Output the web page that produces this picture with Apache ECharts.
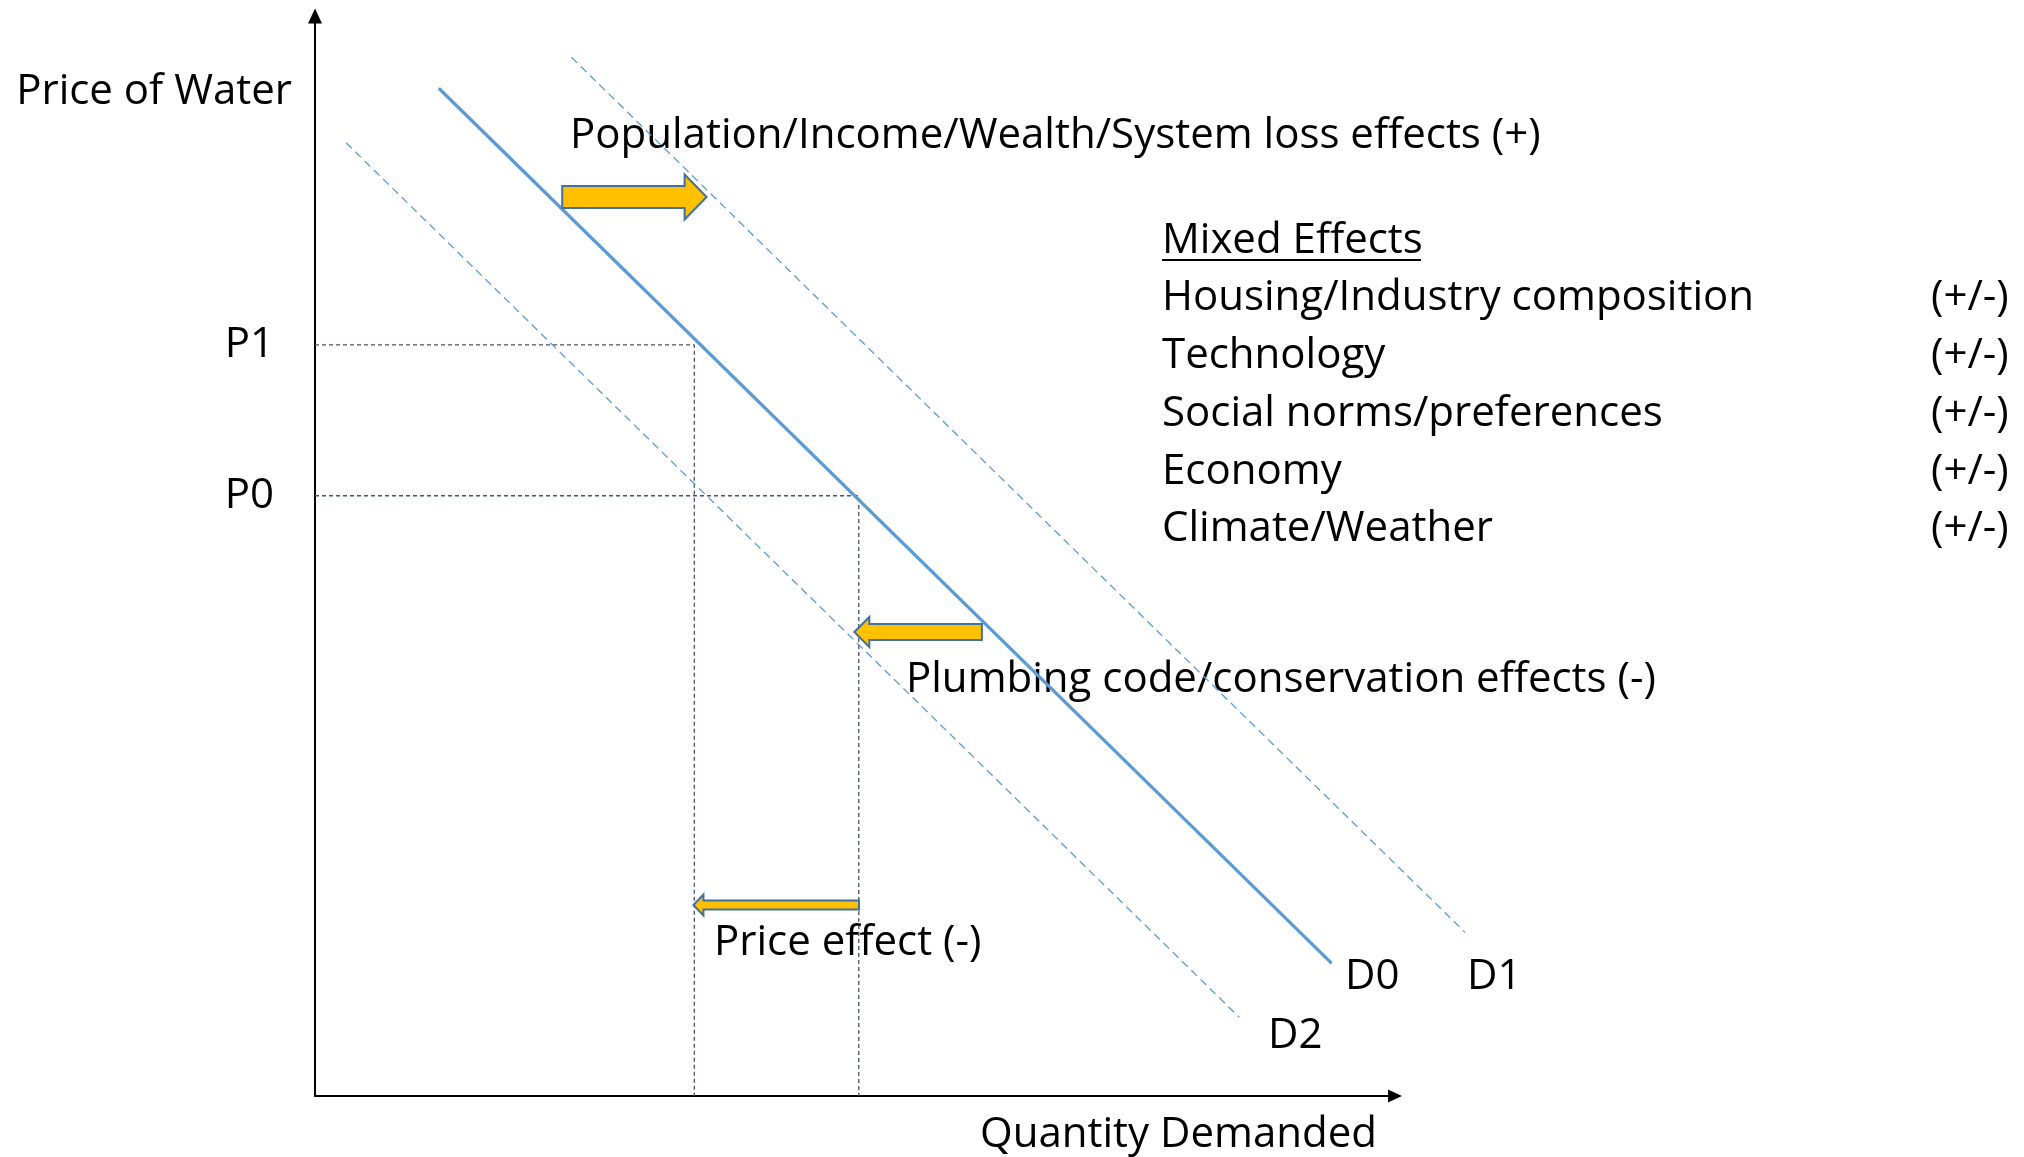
<!DOCTYPE html>
<html>
<head>
<meta charset="utf-8">
<script src="https://cdn.jsdelivr.net/npm/echarts@6/dist/echarts.min.js"></script>
<style>
  html, body { margin: 0; padding: 0; background: #fff; }
  #chart { width: 2024px; height: 1157px; }
</style>
</head>
<body>
<div id="chart"></div>
<script>
// demand curves as [quantity, price] end points, axes run 0..100
const d0 = [[11.46, 93.31], [94.14, 12.29]];
const d1 = [[23.74, 96.18], [106.48, 15.16]];
const d2 = [[2.87, 88.27], [85.58, 7.29]];

const priceTicks = [55.58, 69.54];
const priceLabels = ['P0', 'P1'];
const qtyAtPrice = [50.35, 35.12];

// shift arrows, tail -> head
const arrowFrom = [[22.89, 83.24], [61.75, 42.96], [50.37, 17.69]];
const arrowTo = [[36.26, 83.24], [49.94, 42.96], [35.04, 17.69]];

const mixedEffects = ['Housing/Industry composition', 'Technology', 'Social norms/preferences', 'Economy', 'Climate/Weather'];
const mixedSign = '(+/-)';

const FONT = '"Open Sans"';
const FS = 42;
const arrowSize = [
  { body: 22, head: 45, len: 22 },
  { body: 16, head: 30, len: 15 },
  { body: 9, head: 21, len: 10 }
];

const chart = echarts.init(document.getElementById('chart'));

function guide(i) {
  return [[0, priceTicks[i]], [qtyAtPrice[i], priceTicks[i]], [qtyAtPrice[i], 0]];
}

const txt = (text, x, y, extra) => ({
  type: 'text', x: x, y: y, silent: true,
  style: Object.assign({ text: text, font: FS + 'px ' + FONT, fill: '#000', verticalAlign: 'middle', align: 'left' }, extra || {})
});

const graphics = [
  txt('Population/Income/Wealth/System loss effects (+)', 570, 136),
  txt('Mixed Effects', 1162, 241),
  { type: 'line', silent: true, shape: { x1: 1162, y1: 260, x2: 1421, y2: 260 }, style: { stroke: '#000', lineWidth: 2 } },
  txt('Plumbing code/conservation effects (-)', 906, 680),
  txt('Price effect (-)', 714, 943),
  txt('D0', 1345, 977),
  txt('D1', 1467, 977),
  txt('D2', 1268, 1036)
];
const rowY = [298, 356, 414, 472, 529];
mixedEffects.forEach((m, i) => {
  graphics.push(txt(m, 1162, rowY[i]));
  graphics.push(txt(mixedSign, 1931, rowY[i]));
});

// plain polyline drawn through the axes, so it may run past the axis end
function demandLine(lineStyle) {
  return function (params, api) {
    if (params.dataIndex !== 0) return;
    const pts = [];
    for (let k = 0; k < params.dataInsideLength; k++) {
      pts.push(api.coord([api.value(0, k), api.value(1, k)]));
    }
    return { type: 'polyline', shape: { points: pts }, style: Object.assign({ fill: null }, lineStyle) };
  };
}

const option = {
  animation: false,
  grid: { left: 315, top: 16, width: 1080, height: 1080 },
  xAxis: {
    type: 'value', min: 0, max: 100,
    name: 'Quantity Demanded', nameLocation: 'end', nameGap: -18,
    nameTextStyle: { fontFamily: FONT, fontSize: FS, color: '#000', align: 'right', verticalAlign: 'top', padding: [18, 0, 0, 0] },
    axisLine: { lineStyle: { color: '#000', width: 2 }, symbol: ['none', 'triangle'], symbolSize: [13, 14] },
    axisTick: { show: false }, axisLabel: { show: false }, splitLine: { show: false }
  },
  yAxis: {
    type: 'value', min: 0, max: 100,
    name: 'Price of Water', nameLocation: 'end', nameGap: -76,
    nameTextStyle: { fontFamily: FONT, fontSize: FS, color: '#000', align: 'right', verticalAlign: 'middle', padding: [0, 23, 0, 0] },
    axisLine: { lineStyle: { color: '#000', width: 2 }, symbol: ['none', 'triangle'], symbolSize: [14, 15] },
    axisTick: { show: false },
    axisLabel: {
      customValues: priceTicks, margin: 41,
      fontFamily: FONT, fontSize: FS, color: '#000',
      formatter: v => priceLabels[priceTicks.indexOf(v)]
    },
    splitLine: { show: false }
  },
  graphic: graphics,
  series: [
    { type: 'line', data: guide(1), symbol: 'none', silent: true, clip: false,
      lineStyle: { color: '#44546A', width: 1.3, type: [4, 3] } },
    { type: 'line', data: guide(0), symbol: 'none', silent: true, clip: false,
      lineStyle: { color: '#44546A', width: 1.3, type: [4, 3] } },
    { name: 'D1', type: 'custom', data: d1, silent: true, clip: false,
      renderItem: demandLine({ stroke: '#5B9BD5', lineWidth: 1.3, lineDash: [8, 5] }) },
    { name: 'D2', type: 'line', data: d2, symbol: 'none', silent: true, clip: false,
      lineStyle: { color: '#5B9BD5', width: 1.3, type: [8, 5] } },
    { name: 'D0', type: 'line', data: d0, symbol: 'none', silent: true, clip: false,
      lineStyle: { color: '#5B9BD5', width: 3.2 } },
    {
      type: 'custom', silent: true, clip: false, z: 5,
      data: arrowFrom.map((f, i) => [f[0], f[1], arrowTo[i][0], arrowTo[i][1]]),
      encode: { x: [0, 2], y: [1, 3] },
      renderItem: function (params, api) {
        const s = arrowSize[params.dataIndex];
        const a = api.coord([api.value(0), api.value(1)]);
        const b = api.coord([api.value(2), api.value(3)]);
        const dir = b[0] > a[0] ? 1 : -1;
        const y = a[1], bh = s.body / 2, hh = s.head / 2, nx = b[0] - dir * s.len;
        return {
          type: 'polygon',
          shape: { points: [[a[0], y - bh], [nx, y - bh], [nx, y - hh], [b[0], y], [nx, y + hh], [nx, y + bh], [a[0], y + bh]] },
          style: { fill: '#FFC000', stroke: '#41719C', lineWidth: 2 }
        };
      }
    }
  ]
};
chart.setOption(option);
</script>
</body>
</html>
